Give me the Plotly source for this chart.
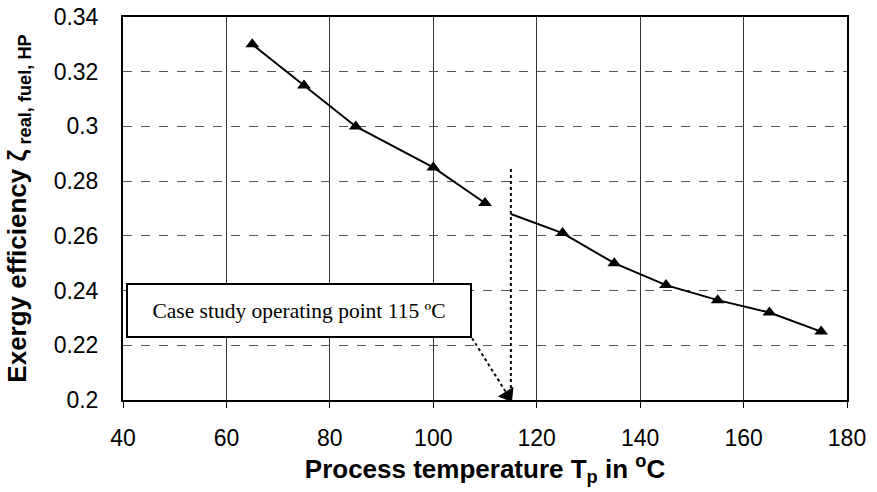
import plotly.graph_objects as go

# Data
temp_a = [65, 75, 85, 100, 110]
eff_a = [0.330, 0.315, 0.300, 0.285, 0.272]
temp_b = [115, 125, 135, 145, 155, 165, 175]
eff_b = [0.268, 0.261, 0.250, 0.242, 0.2365, 0.232, 0.225]

op_temp = 115
op_line_y = [0.2, 0.285]
arrow_x = [107.5, 114.4]
arrow_y = [0.2226, 0.2018]
label = "Case study operating point 115 ºC"

x_ticks = [40, 60, 80, 100, 120, 140, 160, 180]
y_ticks = [0.2, 0.22, 0.24, 0.26, 0.28, 0.3, 0.32, 0.34]
y_ticktext = ["0.2", "0.22", "0.24", "0.26", "0.28", "0.3", "0.32", "0.34"]

fig = go.Figure()

# line segments
fig.add_trace(go.Scatter(x=temp_a, y=eff_a, mode="lines",
                         line=dict(color="black", width=2), showlegend=False))
fig.add_trace(go.Scatter(x=temp_b, y=eff_b, mode="lines",
                         line=dict(color="black", width=2), showlegend=False))
# markers (the 115 point on the second segment has none)
fig.add_trace(go.Scatter(x=temp_a + temp_b[1:], y=eff_a + eff_b[1:], mode="markers",
                         marker=dict(symbol="triangle-up", size=12, color="black"),
                         showlegend=False))

# dotted vertical operating-point line
fig.add_trace(go.Scatter(
    x=[op_temp, op_temp], y=op_line_y, mode="lines",
    line=dict(color="black", width=2, dash="dot"),
    showlegend=False))

# dotted arrow
fig.add_trace(go.Scatter(
    x=arrow_x, y=arrow_y, mode="lines",
    line=dict(color="black", width=2, dash="dot"),
    showlegend=False))
fig.add_trace(go.Scatter(
    x=arrow_x[1:], y=arrow_y[1:], mode="markers",
    marker=dict(symbol="triangle-up", size=16, color="black", angle=148),
    showlegend=False))

fig.add_annotation(
    x=74.0, y=0.2327, xref="x", yref="y",
    text=label, showarrow=False,
    font=dict(family="Liberation Serif", size=21.5, color="black"),
    bgcolor="white", bordercolor="black", borderwidth=2,
    width=340, height=49, align="center")

fig.update_layout(
    width=877, height=492,
    margin=dict(l=123, r=30, t=17, b=92),
    paper_bgcolor="white", plot_bgcolor="white",
    font=dict(family="Liberation Sans", color="black"),
)

fig.update_xaxes(
    range=[40, 180], tickvals=x_ticks,
    tickfont=dict(size=23, family="Liberation Sans"),
    showgrid=True, gridcolor="#333", gridwidth=1,
    showline=True, linecolor="black", linewidth=2, mirror=True,
    ticks="outside", ticklen=6, tickcolor="black", ticklabelstandoff=10,
    zeroline=False, automargin=False,
    title=dict(text="<b>Process temperature T<sub>p</sub> in <sup>o</sup>C</b>",
               font=dict(size=26, family="Liberation Sans"), standoff=10),
)
fig.update_yaxes(
    range=[0.2, 0.34], tickvals=y_ticks, ticktext=y_ticktext,
    tickfont=dict(size=23, family="Liberation Sans"),
    showgrid=True, gridcolor="#555", gridwidth=1, griddash="dash",
    showline=True, linecolor="black", linewidth=2, mirror=True,
    ticks="", ticklabelstandoff=18, zeroline=False, automargin=False,
    ticklabeloverflow="allow",
    title=dict(text="<b>Exergy efficiency ζ<sub> real, fuel, HP</sub></b>",
               font=dict(size=26, family="Liberation Sans"), standoff=20),
)

fig.write_html("out.html", config={"displayModeBar": False},
               post_script="document.body.style.margin='0';")
